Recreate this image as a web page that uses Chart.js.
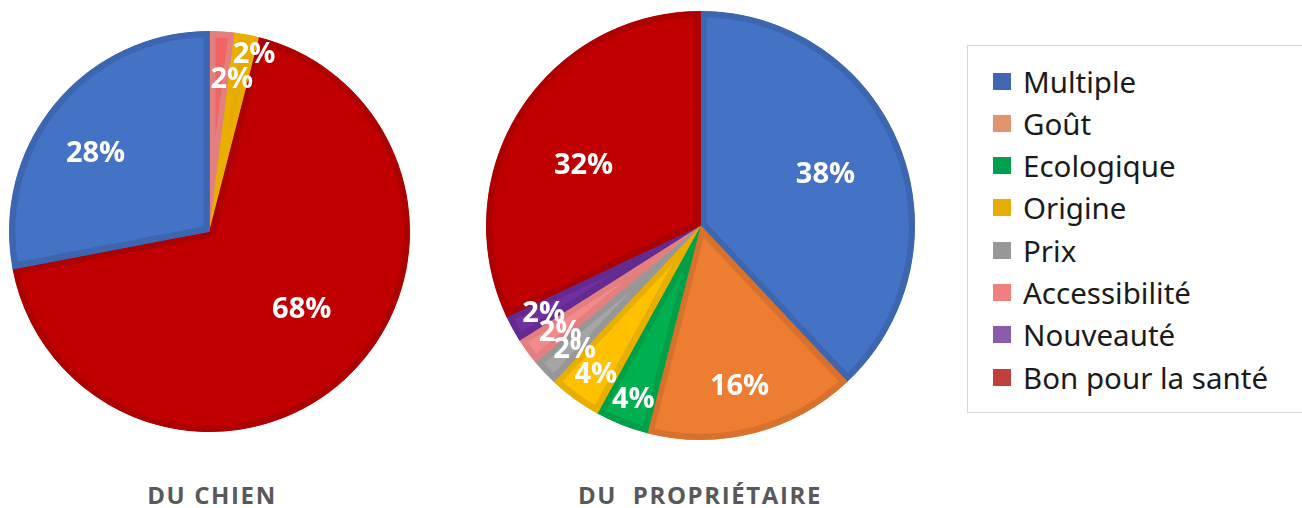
<!DOCTYPE html>
<html>
<head>
<meta charset="utf-8">
<script src="https://cdn.jsdelivr.net/npm/chart.js@4.4.1/dist/chart.umd.min.js"></script>
<style>
  html, body { margin: 0; padding: 0; background: #ffffff; }
  body { width: 1302px; height: 508px; position: relative; overflow: hidden; }
  canvas { position: absolute; }
  #c1 { left: 9px; top: 31px; }
  #c2 { left: 486px; top: 11px; }
  .title { position: absolute; top: 479px; font-family: "Open Sans", sans-serif; font-weight: 700;
           font-size: 24px; color: #595959; letter-spacing: 1.6px; white-space: pre; transform: translateX(-50%) scaleY(0.93); }
  #legend { position: absolute; left: 967px; top: 45px; width: 340px; height: 368px;
            border: 1.5px solid #d6d6d6; box-sizing: border-box; }
  .item { position: absolute; left: 25px; height: 30px; display: flex; align-items: center;
          font-family: "Noto Sans", sans-serif; font-size: 29.5px; color: #1b1b1b; }
  .sw { width: 18px; height: 17px; margin-right: 12px; }
</style>
</head>
<body>
<canvas id="c1" width="401" height="401"></canvas>
<canvas id="c2" width="429" height="429"></canvas>
<div class="title" style="left:212px;">DU CHIEN</div>
<div class="title" style="left:700px;">DU  PROPRIÉTAIRE</div>
<div id="legend"></div>
<script>
// ---- Data ----
const categories = ["Multiple", "Goût", "Ecologique", "Origine", "Prix", "Accessibilité", "Nouveauté", "Bon pour la santé"];
const ownerValues = [38, 16, 4, 4, 2, 2, 2, 32];

const dogCategories = ["Accessibilité", "Origine", "Bon pour la santé", "Multiple"];
const dogValues = [2, 2, 68, 28];

// ---- Styles ----
const fillColors = {
  "Multiple": "#4472C4", "Goût": "#ED7D31", "Ecologique": "#00B050", "Origine": "#FFC000",
  "Prix": "#A5A5A5", "Accessibilité": "#F28B8B", "Nouveauté": "#7030A0", "Bon pour la santé": "#C00000"
};
const borderColors = {
  "Multiple": "#3D66B1", "Goût": "#D8712B", "Ecologique": "#00A048", "Origine": "#E8AE00",
  "Prix": "#979797", "Accessibilité": "#E47F7F", "Nouveauté": "#632A8F", "Bon pour la santé": "#AD0000"
};
const dogFill = { "Accessibilité": "#F06464", "Origine": "#E8AA00" };
const legendColors = {
  "Multiple": "#3F67B3", "Goût": "#E0956A", "Ecologique": "#00A04C", "Origine": "#E6AC00",
  "Prix": "#989898", "Accessibilité": "#F07F7F", "Nouveauté": "#8A5AAB", "Bon pour la santé": "#C0403E"
};

// label placement (layout only): [angle shift as fraction of turn, radius fraction]
const dogLabelPlace = [[0.013, 0.77], [0.009, 0.915], [-0.019, 0.60], [-0.014, 0.69]];
const ownerLabelPlace = [[-0.002, 0.63], [0.002, 0.77], [-0.001, 0.865], [-0.002, 0.845],
                         [-0.003, 0.82], [-0.003, 0.82], [-0.001, 0.837], [-0.014, 0.614]];

const pctLabels = {
  id: 'pctLabels',
  afterDatasetsDraw(chart, args, opts) {
    const ctx = chart.ctx;
    const meta = chart.getDatasetMeta(0);
    const data = chart.data.datasets[0].data;
    const total = data.reduce((a, b) => a + b, 0);
    ctx.save();
    ctx.font = "bold 29px 'Open Sans', sans-serif";
    ctx.fillStyle = "#ffffff";
    ctx.textAlign = "center";
    ctx.textBaseline = "middle";
    meta.data.forEach((arc, i) => {
      const p = arc.getProps(['x', 'y', 'startAngle', 'endAngle', 'outerRadius'], true);
      const pl = opts.place[i] || [0, 0.65];
      const mid = (p.startAngle + p.endAngle) / 2 + pl[0] * 2 * Math.PI;
      const rr = p.outerRadius * pl[1];
      const x = p.x + Math.cos(mid) * rr;
      const y = p.y + Math.sin(mid) * rr;
      ctx.fillText(Math.round(data[i] / total * 100) + "%", x, y + 1);
    });
    ctx.restore();
  }
};

function makePie(id, labels, values, fills, place) {
  new Chart(document.getElementById(id), {
    type: 'pie',
    data: {
      labels: labels,
      datasets: [{
        data: values,
        backgroundColor: labels.map(l => fills[l] || fillColors[l]),
        borderColor: labels.map(l => borderColors[l]),
        borderWidth: 6,
        borderAlign: 'inner'
      }]
    },
    options: {
      responsive: false,
      animation: false,
      layout: { padding: 0 },
      plugins: {
        legend: { display: false },
        tooltip: { enabled: false },
        pctLabels: { place: place }
      }
    },
    plugins: [pctLabels]
  });
}

makePie('c1', dogCategories, dogValues, dogFill, dogLabelPlace);
makePie('c2', categories, ownerValues, {}, ownerLabelPlace);

// HTML legend
const lg = document.getElementById('legend');
categories.forEach((c, i) => {
  const d = document.createElement('div');
  d.className = 'item';
  d.style.top = (20 + i * 42.3) + 'px';
  const sw = document.createElement('div');
  sw.className = 'sw';
  sw.style.background = legendColors[c];
  const t = document.createElement('span');
  t.textContent = c;
  d.appendChild(sw); d.appendChild(t);
  lg.appendChild(d);
});
</script>
</body>
</html>
